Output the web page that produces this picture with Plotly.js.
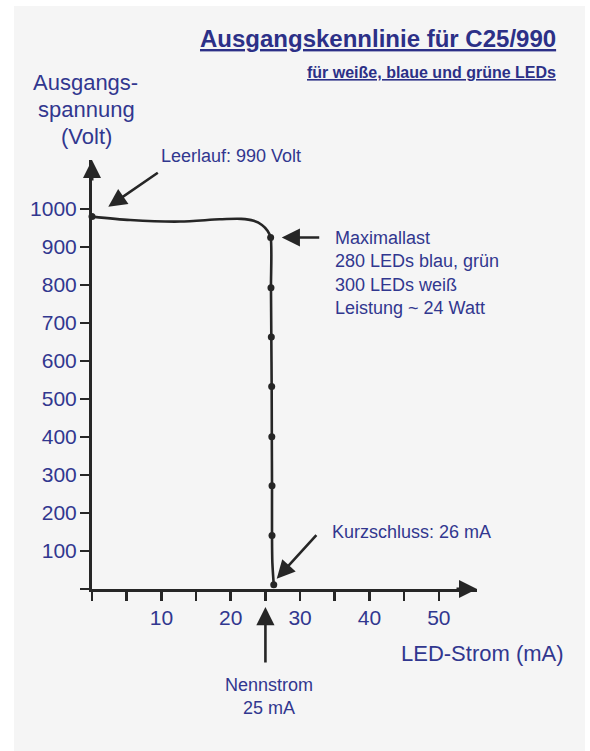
<!DOCTYPE html>
<html>
<head>
<meta charset="utf-8">
<script src="https://cdn.plot.ly/plotly-3.0.1.min.js"></script>
<style>html,body{margin:0;padding:0;background:#fff;}#chart{width:590px;height:751px;}</style>
</head>
<body>
<div id="chart"></div>
<script>
// ---- data ----
// curve shape: LED current (mA) vs output voltage (V)
const curveCurrent = [0, 5.5, 12.7, 18.4, 21.5, 23.3, 24.5, 25.3, 25.75, 25.8, 25.85, 25.9, 25.92, 25.95, 25.95, 26.0, 26.2];
const curveVoltage = [980, 971, 967, 973, 974, 969, 958, 943, 925, 793, 663, 533, 401, 272, 141, 70, 11];
// measured points (dots)
const dotCurrent = [0, 25.75, 25.8, 25.85, 25.9, 25.92, 25.95, 25.95, 26.2];
const dotVoltage = [980, 925, 793, 663, 533, 401, 272, 141, 11];
// axis ticks
const xTickVals = [0, 5, 10, 15, 20, 25, 30, 35, 40, 45, 50];
const xTickText = ['', '', '10', '', '20', '', '30', '', '40', '', '50'];
const yTickVals = [0, 100, 200, 300, 400, 500, 600, 700, 800, 900, 1000];
const yTickText = ['', '100', '200', '300', '400', '500', '600', '700', '800', '900', '1000'];
// texts
const titleText = 'Ausgangskennlinie für C25/990';
const subtitleText = 'für weiße, blaue und grüne LEDs';
const yTitleLines = ['Ausgangs-', 'spannung', '(Volt)'];
const xTitleText = 'LED-Strom (mA)';
const noLoadText = 'Leerlauf: 990 Volt';
const maxLoadLines = ['Maximallast', '280 LEDs blau, grün', '300 LEDs weiß', 'Leistung ~ 24 Watt'];
const shortText = 'Kurzschluss: 26 mA';
const nominalLines = ['Nennstrom', '25 mA'];
// annotated points
const noLoadPoint = [2.35, 1006];
const maxLoadPoint = [27.35, 925];
const shortPoint = [26.63, 27];
const nominalCurrent = 25;

// ---- layout geometry ----
const W = 590, H = 751;
const M = {l: 92, r: 113, t: 160, b: 162};
const PW = W - M.l - M.r, PH = H - M.t - M.b;
const xMax = 55.5, yMax = 1129;
const px = x => (x - M.l) / PW;
const py = y => (H - M.b - y) / PH;

const blue = '#31378f';
const navy = '#2c3087';
const ink = '#262626';
const FONT = 'Liberation Sans, Arial, sans-serif';

const traces = [
  {x: curveCurrent, y: curveVoltage, mode: 'lines', type: 'scatter',
   line: {color: ink, width: 2.6, shape: 'spline', smoothing: 0.8},
   cliponaxis: false, hoverinfo: 'skip'},
  {x: dotCurrent, y: dotVoltage, mode: 'markers', type: 'scatter',
   marker: {color: ink, size: 7}, cliponaxis: false, hoverinfo: 'skip'}
];

function txt(text, x, y, size, opts) {
  return Object.assign({text: text, xref: 'paper', yref: 'paper', x: px(x), y: py(y),
    showarrow: false, xanchor: 'left', yanchor: 'middle',
    font: {family: FONT, size: size, color: blue}}, opts || {});
}
function arrow(x, y, ax, ay, refs, w, s) {
  return Object.assign({text: '', x: x, y: y, ax: ax, ay: ay, axref: 'pixel', ayref: 'pixel',
    showarrow: true, arrowhead: 2, arrowwidth: w || 2.6, arrowsize: s || 1.4,
    arrowcolor: ink, standoff: 0, startstandoff: 0}, refs);
}

const annotations = [
  txt('<b><span style="text-decoration:underline">' + titleText + '</span></b>', 558, 39, 24, {xanchor: 'right', font: {family: FONT, size: 24, color: navy}}),
  txt('<b><span style="text-decoration:underline">' + subtitleText + '</span></b>', 558, 72, 16, {xanchor: 'right', font: {family: FONT, size: 16, color: navy}}),
  txt(yTitleLines[0], 85, 83, 22, {xanchor: 'center'}),
  txt(yTitleLines[1], 86, 110, 22, {xanchor: 'center'}),
  txt(yTitleLines[2], 86, 137, 22, {xanchor: 'center'}),
  txt(xTitleText, 399, 653, 22),
  txt(noLoadText, 159, 156, 18),
  txt(maxLoadLines.join('<br>'), 333, 273, 18, {align: 'left'}),
  txt(shortText, 330, 532, 18),
  txt(nominalLines.join('<br>'), 269, 696, 18, {xanchor: 'center', align: 'center'}),
  // annotation arrows
  arrow(noLoadPoint[0], noLoadPoint[1], 51, -35, {xref: 'x', yref: 'y'}),
  arrow(maxLoadPoint[0], maxLoadPoint[1], 39, 0, {xref: 'x', yref: 'y'}),
  arrow(shortPoint[0], shortPoint[1], 41, -45, {xref: 'x', yref: 'y'}),
  arrow(nominalCurrent, py(607), 0, 57, {xref: 'x', yref: 'paper'}),
  // axis arrowheads
  arrow(1, 0, -22, 0, {xref: 'paper', yref: 'paper'}, 3, 1.2),
  arrow(0, 1, 0, 22, {xref: 'paper', yref: 'paper'}, 3, 1.2)
];

const shapes = [
  {type: 'rect', xref: 'paper', yref: 'paper', x0: px(14), x1: px(585), y0: py(751), y1: py(6),
   fillcolor: '#f5f5f5', line: {width: 0}, layer: 'below'}
];

const axisCommon = {showgrid: false, zeroline: false, showline: true, linecolor: ink, linewidth: 3,
  ticks: 'outside', ticklen: 9, tickwidth: 2.6, tickcolor: ink,
  tickfont: {family: FONT, size: 21, color: blue}, tickmode: 'array', fixedrange: true};

const layout = {
  width: W, height: H, margin: M, showlegend: false,
  paper_bgcolor: '#ffffff', plot_bgcolor: 'rgba(0,0,0,0)',
  xaxis: Object.assign({}, axisCommon, {range: [0, xMax], tickvals: xTickVals, ticktext: xTickText, ticklabelstandoff: -1}),
  yaxis: Object.assign({}, axisCommon, {range: [0, yMax], tickvals: yTickVals, ticktext: yTickText, ticklabelstandoff: -1}),
  annotations: annotations, shapes: shapes
};

Plotly.newPlot('chart', traces, layout, {displayModeBar: false, staticPlot: true});
</script>
</body>
</html>
